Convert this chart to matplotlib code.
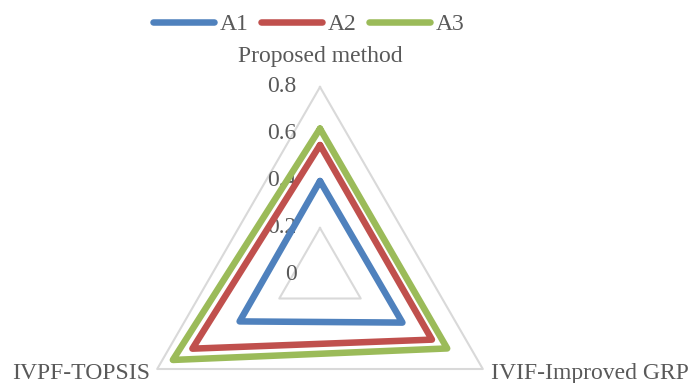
import numpy as np
import matplotlib.pyplot as plt

plt.rcParams["font.family"] = ["Liberation Serif", "DejaVu Serif"]

# methods on the radar axes, clockwise from the top
methods = ["Proposed method", "IVIF-Improved GRP", "IVPF-TOPSIS"]
series = ["A1", "A2", "A3"]
a1 = [0.40, 0.405, 0.395]
a2 = [0.553, 0.55, 0.627]
a3 = [0.623, 0.625, 0.723]
ticks = [0, 0.2, 0.4, 0.6, 0.8]
rings = [0.2, 0.8]

colors = ["#4F81BD", "#C0504D", "#9BBB59"]
grid_color = "#D9D9D9"
text_color = "#595959"
fs = 17

fig = plt.figure(figsize=(6.89, 3.83), dpi=100)
# centre of the radar at (320, 275) px, 0.8 -> 188 px
cx, cy, rad = 320, 383 - 275, 188
ax = fig.add_axes([(cx - rad) / 689, (cy - rad) / 383, 2 * rad / 689, 2 * rad / 383],
                  projection="polar")
ax.set_theta_offset(np.pi / 2)
ax.set_theta_direction(-1)
ax.set_ylim(0, 0.8)
ax.set_axis_off()

angles = np.linspace(0, 2 * np.pi, len(methods), endpoint=False)
closed = np.append(angles, angles[0])

for r in rings:
    ax.plot(closed, [r] * len(closed), color=grid_color, lw=1.5, clip_on=False, zorder=1)

for name, vals, c in zip(series, [a1, a2, a3], colors):
    ax.plot(closed, vals + vals[:1], color=c, lw=4.7, label=name,
            solid_joinstyle="round", solid_capstyle="round", clip_on=False, zorder=3)

for t in ticks:
    ax.annotate(f"{t:g}", xy=(0, t), xytext=(-17, 0), textcoords="offset points",
                ha="right", va="center", fontsize=fs, color=text_color,
                annotation_clip=False, zorder=2)

ax.text(angles[0], 0.93, methods[0], ha="center", va="center",
        fontsize=fs, color=text_color, clip_on=False)
ax.text(angles[1], 0.84, methods[1], ha="left", va="center",
        fontsize=fs, color=text_color, clip_on=False)
ax.text(angles[2], 0.835, methods[2], ha="right", va="center",
        fontsize=fs, color=text_color, clip_on=False)

fig.legend(loc="upper center", bbox_to_anchor=(0.448, 1.02), ncol=3, frameon=False,
           fontsize=fs, labelcolor=text_color, handlelength=2.6,
           handletextpad=0.25, columnspacing=0.5)

fig.savefig("out.png", dpi=100)
